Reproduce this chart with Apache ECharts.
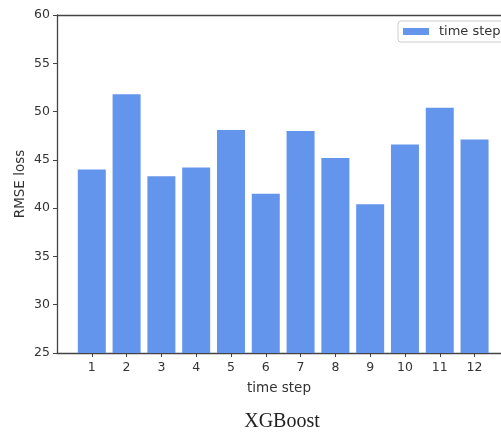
<!DOCTYPE html>
<html>
<head>
<meta charset="utf-8">
<script src="https://cdn.jsdelivr.net/npm/echarts@6/dist/echarts.min.js"></script>
<style>
html,body{margin:0;padding:0;background:#fff;}
#chart{width:501px;height:433px;}
</style>
</head>
<body>
<div id="chart"></div>
<script>
var steps = [1, 2, 3, 4, 5, 6, 7, 8, 9, 10, 11, 12];
var rmse = [44.0, 51.8, 43.3, 44.2, 48.1, 41.5, 48.0, 45.2, 40.4, 46.6, 50.4, 47.1];
var yTicks = [25, 30, 35, 40, 45, 50, 55, 60];
var seriesName = 'time step';
var xName = 'time step';
var yName = 'RMSE loss';
var chartTitle = 'XGBoost';

var chart = echarts.init(document.getElementById('chart'), null, {renderer: 'canvas'});
var pairs = steps.map(function (s, i) { return [s, rmse[i]]; });
var textColor = '#333';
var axisColor = '#444';
var xMin = 0, xMax = 12.76;
chart.setOption({
  animation: false,
  backgroundColor: '#fff',
  title: {
    text: chartTitle,
    left: 277,
    top: 407,
    textAlign: 'center',
    textStyle: {fontFamily: 'Liberation Serif', fontSize: 20, fontWeight: 'normal', color: '#222'}
  },
  legend: {
    data: [seriesName],
    left: 398,
    top: 21,
    orient: 'horizontal',
    icon: 'rect',
    itemWidth: 26,
    itemHeight: 7,
    itemGap: 10,
    padding: [4, 30, 4, 5],
    borderColor: '#ccc',
    borderWidth: 1,
    borderRadius: 3,
    textStyle: {fontFamily: 'DejaVu Sans', fontSize: 13, color: textColor, padding: [0, 0, 0, 5]}
  },
  grid: {
    left: 57, right: 0, top: 15, bottom: 80, show: false
  },
  xAxis: [{
    type: 'value',
    min: xMin, max: xMax,
    name: xName,
    nameLocation: 'middle',
    nameGap: 28,
    nameTextStyle: {fontFamily: 'DejaVu Sans', fontSize: 13.5, color: textColor},
    splitLine: {show: false},
    axisLine: {show: true, lineStyle: {color: axisColor, width: 1.3}},
    axisTick: {show: true, length: 4, customValues: steps, lineStyle: {color: axisColor}},
    axisLabel: {customValues: steps, fontFamily: 'DejaVu Sans', fontSize: 12.5, color: textColor, margin: 8}
  }, {
    type: 'value',
    position: 'top',
    min: xMin, max: xMax,
    splitLine: {show: false},
    axisLine: {show: true, lineStyle: {color: axisColor, width: 1.3}},
    axisTick: {show: false},
    axisLabel: {show: false}
  }],
  yAxis: {
    type: 'value',
    min: 25, max: 60, interval: 5,
    name: yName,
    nameLocation: 'middle',
    nameGap: 30,
    nameMoveOverlap: false,
    nameTextStyle: {fontFamily: 'DejaVu Sans', fontSize: 13.5, color: textColor},
    splitLine: {show: false},
    axisLine: {show: true, lineStyle: {color: axisColor, width: 1.3}},
    axisTick: {show: true, length: 4, lineStyle: {color: axisColor}},
    axisLabel: {fontFamily: 'DejaVu Sans', fontSize: 12.5, color: textColor, margin: 7}
  },
  series: [{
    name: seriesName,
    type: 'bar',
    data: pairs,
    barWidth: 28,
    itemStyle: {color: '#6495ED'},
    clip: true
  }]
});
</script>
</body>
</html>
